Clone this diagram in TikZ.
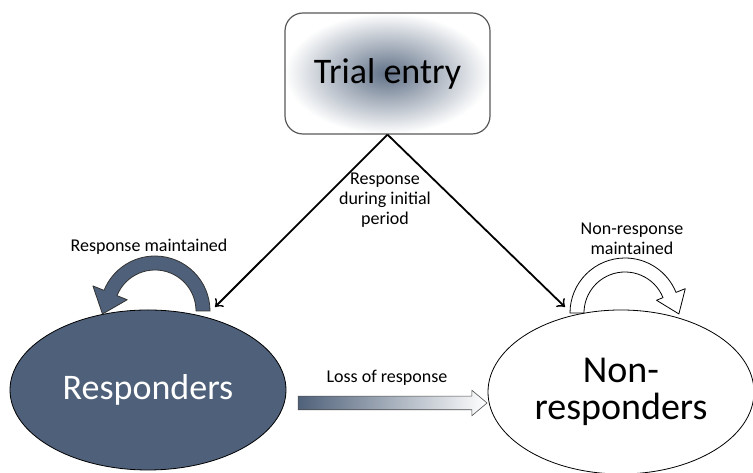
\documentclass[tikz,border=0pt]{standalone}
\usepackage{fontspec}
\setmainfont{Carlito}
\usetikzlibrary{positioning,shapes.geometric,shapes.arrows,calc,arrows.meta}
\definecolor{slate}{RGB}{79,97,122}

\begin{document}
\begin{tikzpicture}[x=1pt,y=1pt,
    bigtext/.style={font=\fontsize{36}{37}\selectfont},
    smalltext/.style={font=\fontsize{18}{20}\selectfont, align=center},
    group/.style={ellipse, inner sep=0pt, draw=black, line width=0.8pt},
    entryline/.style={line width=1.8pt, -{Classical TikZ Rightarrow[length=7pt,width=12pt]}},
    loopband/.style={line width=0.8pt, line join=round}
    ]
    \useasboundingbox (0,0) rectangle (753,473);

    % the three groups
    \node (trial) [rectangle, rounded corners=18pt, draw=black!65, line width=1.2pt,
        inner color=slate!90, outer color=white,
        minimum width=205pt, minimum height=121pt, bigtext] at (387.5,399.5) {Trial entry};
    \node (resp) [group, fill=slate, text=white,
        minimum width=276pt, minimum height=160pt, bigtext] at (148,83) {Responders};
    \node (nonresp) [group, fill=white, align=center,
        minimum width=266pt, minimum height=164pt,
        font=\fontsize{38}{37}\selectfont] at (621,81) {Non-\\responders};

    % initial response
    \coordinate (resptip) at (215,166);
    \coordinate (nonresptip) at (565,166);
    \draw[entryline] (trial.south) -- (resptip);
    \draw[entryline] (trial.south) -- (nonresptip);
    \node (initial) [smalltext] at (385,273) {Response\\during initial\\period};

    % response maintained
    \coordinate (rc) at (155,162);
    \draw[loopband, draw=black!80, fill=slate]
        ($(rc)+(0:55)$) arc[start angle=0, end angle=158, radius=55]
        -- ($(rc)+(158:67)$)
        -- ($(rc)+(158:48)+(-8,-21)$)
        -- ($(rc)+(158:30)$)
        -- ($(rc)+(158:41)$) arc[start angle=158, end angle=0, radius=41]
        -- cycle;
    \node (respmaint) [smalltext] at (149,226) {Response maintained};

    % non-response maintained
    \coordinate (nc) at (625,160);
    \draw[loopband, draw=black, fill=white]
        ($(nc)+(180:55)$) arc[start angle=180, end angle=22, radius=55]
        -- ($(nc)+(22:65)$)
        -- ($(nc)+(22:49.5)+(8,-19.5)$)
        -- ($(nc)+(22:34)$)
        -- ($(nc)+(22:41)$) arc[start angle=22, end angle=180, radius=41]
        -- cycle;
    \node (nonmaint) [smalltext] at (632,234) {Non-response\\maintained};

    % loss of response
    \node (loss) [single arrow, draw=black!70, line width=0.6pt,
        left color=slate, right color=white,
        minimum height=189pt, inner xsep=0pt, inner ysep=6.5pt,
        single arrow head extend=6pt, single arrow tip angle=80] at (388.5,70) {};
    \node (losslabel) [smalltext] at (387,95) {Loss of response};
\end{tikzpicture}
\end{document}
